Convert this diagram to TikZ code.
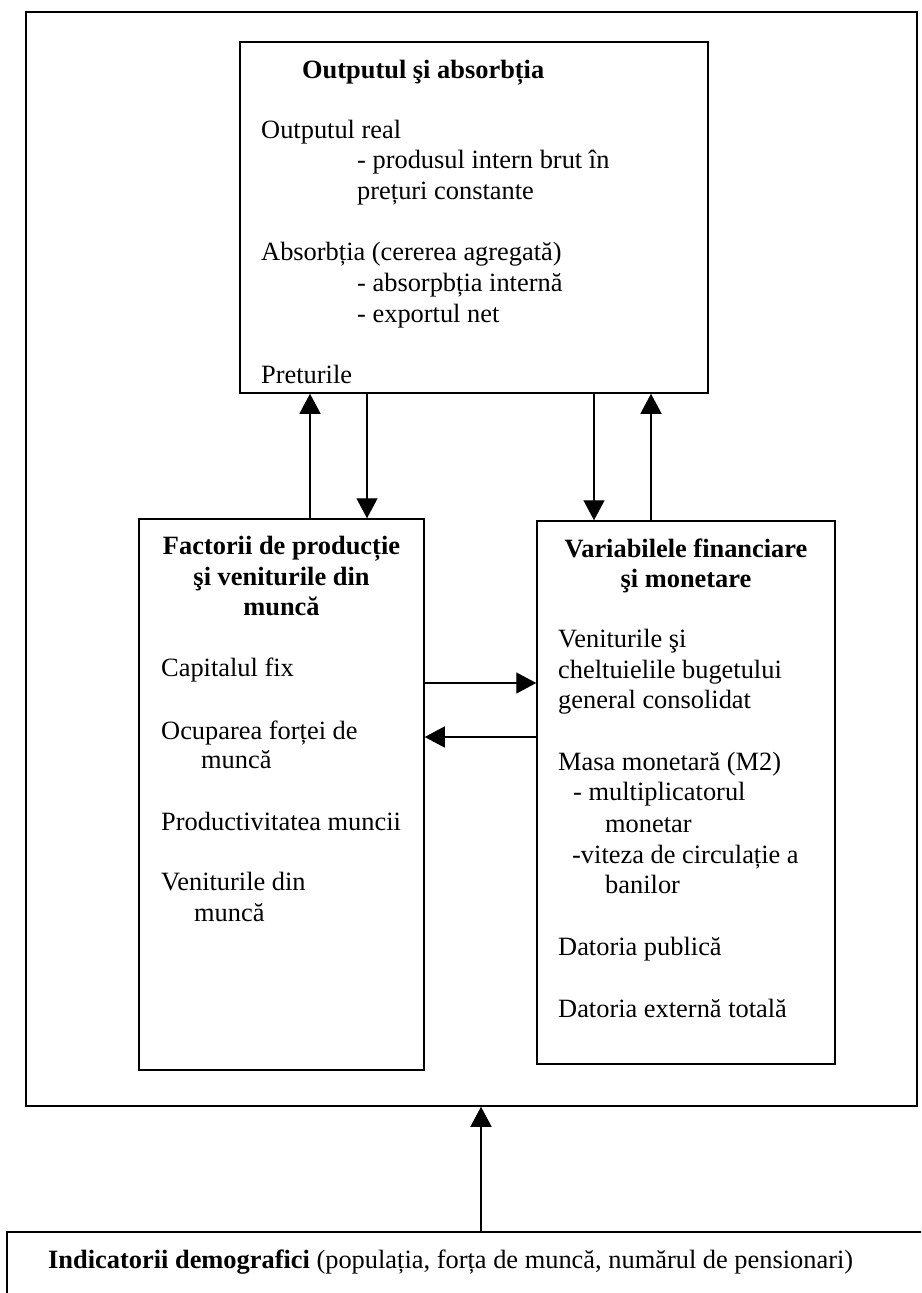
\documentclass[tikz,border=0pt]{standalone}
\usepackage{fontspec}
\setmainfont{Liberation Serif}
\usetikzlibrary{arrows.meta}
\begin{document}
\begin{tikzpicture}[x=1pt,y=-1pt,
  font=\fontsize{26.4}{30.5}\selectfont,
  box/.style={draw,line width=1.5pt,inner sep=0pt},
  txt/.style={anchor=base west,inner sep=0pt},
  ttl/.style={anchor=base,inner sep=0pt,font=\fontsize{26.4}{30.5}\selectfont\bfseries},
  arr/.style={line width=1.4pt,-{Triangle[width=21pt,length=20pt]}}]
\useasboundingbox (0,0) rectangle (921,1293);
\fill[white] (0,0) rectangle (921,1293);
\clip (0,0) rectangle (921,1293);

% boxes
\node[box,minimum width=891pt,minimum height=1094pt] (outer) at (471.5,559) {};
\node[box,minimum width=468pt,minimum height=351pt] (top) at (474,217.5) {};
\node[box,minimum width=285pt,minimum height=551pt] (left) at (281.5,794.5) {};
\node[box,minimum width=298pt,minimum height=543pt] (right) at (686,792.5) {};
\node[box,minimum width=923pt,minimum height=80pt] (demo) at (468.5,1272) {};

% top box text
\node[txt,font=\fontsize{26.4}{30.5}\selectfont\bfseries] (t0) at (302,78) {Outputul şi absorbția};
\node[txt] (t1) at (261,138) {Outputul real};
\node[txt] (t2) at (357,168) {- produsul intern brut în};
\node[txt] (t3) at (357,199) {prețuri constante};
\node[txt] (t4) at (261,260) {Absorbția (cererea agregată)};
\node[txt] (t5) at (357,291) {- absorpbția internă};
\node[txt] (t6) at (357,322) {- exportul net};
\node[txt] (t7) at (261,383) {Preturile};

% left box text
\node[ttl] (l0) at (281.5,554) {Factorii de producție};
\node[ttl] (l1) at (281.5,585) {şi veniturile din};
\node[ttl] (l2) at (281.5,615) {muncă};
\node[txt] (l3) at (161,676) {Capitalul fix};
\node[txt] (l4) at (161,739) {Ocuparea forței de};
\node[txt] (l5) at (201,768) {muncă};
\node[txt] (l6) at (161,830) {Productivitatea muncii};
\node[txt] (l7) at (161,890) {Veniturile din};
\node[txt] (l8) at (194,921) {muncă};

% right box text
\node[ttl] (r0) at (686,557) {Variabilele financiare};
\node[ttl] (r1) at (686,587) {şi monetare};
\node[txt] (r2) at (558,647) {Veniturile şi};
\node[txt] (r3) at (558,678) {cheltuielile bugetului};
\node[txt] (r4) at (558,708) {general consolidat};
\node[txt] (r5) at (558,770) {Masa monetară (M2)};
\node[txt] (r6) at (573,800) {- multiplicatorul};
\node[txt] (r7) at (605,832) {monetar};
\node[txt] (r8) at (572,863) {-viteza de circulație a};
\node[txt] (r9) at (605,893) {banilor};
\node[txt] (r10) at (558,955) {Datoria publică};
\node[txt] (r11) at (558,1017) {Datoria externă totală};

% bottom text
\node[txt] (d0) at (48,1268) {\textbf{Indicatorii demografici} (populația, forța de muncă, numărul de pensionari)};

% connector columns / rows
\coordinate (c1) at (310,0);
\coordinate (c2) at (367,0);
\coordinate (c3) at (594,0);
\coordinate (c4) at (651,0);
\coordinate (c5) at (481,0);
\coordinate (h1) at (0,683);
\coordinate (h2) at (0,737);

\draw[arr] (left.north -| c1) -- (top.south -| c1);
\draw[arr] (top.south -| c2) -- (left.north -| c2);
\draw[arr] (top.south -| c3) -- (right.north -| c3);
\draw[arr] (right.north -| c4) -- (top.south -| c4);
\draw[arr] (left.east |- h1) -- (right.west |- h1);
\draw[arr] (right.west |- h2) -- (left.east |- h2);
\draw[arr] (demo.north -| c5) -- (outer.south -| c5);
\end{tikzpicture}
\end{document}
